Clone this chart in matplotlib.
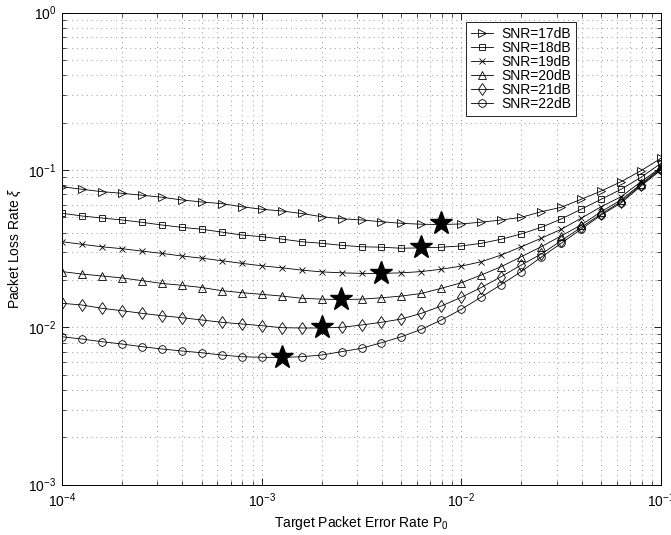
import numpy as np
import matplotlib
matplotlib.use("Agg")
import matplotlib.pyplot as plt

plt.rcParams['font.family'] = ['Liberation Sans', 'DejaVu Sans']
plt.rcParams['mathtext.fontset'] = 'custom'
plt.rcParams['mathtext.rm'] = 'Liberation Sans'
plt.rcParams['mathtext.it'] = 'Liberation Sans:italic'

# Target packet error rate (31 log-spaced points, 1e-4 .. 1e-1)
p0 = [1e-4 * 10 ** (k / 10) for k in range(31)]

labels = ["SNR=17dB", "SNR=18dB", "SNR=19dB", "SNR=20dB", "SNR=21dB", "SNR=22dB"]
markers = [">", "s", "x", "^", "d", "o"]

snr17 = [0.0783, 0.0754, 0.0728, 0.0711, 0.0691, 0.0671, 0.0645, 0.0626, 0.0611, 0.0584,
         0.0563, 0.0549, 0.0529, 0.0505, 0.0490, 0.0481, 0.0469, 0.0458, 0.0452, 0.0450,
         0.0454, 0.0466, 0.0481, 0.0500, 0.0543, 0.0579, 0.0651, 0.0735, 0.0842, 0.0990, 0.1187]
snr18 = [0.0531, 0.0510, 0.0495, 0.0481, 0.0465, 0.0447, 0.0432, 0.0420, 0.0403, 0.0386,
         0.0377, 0.0364, 0.0350, 0.0342, 0.0332, 0.0325, 0.0323, 0.0318, 0.0320, 0.0323,
         0.0329, 0.0342, 0.0363, 0.0392, 0.0432, 0.0488, 0.0563, 0.0651, 0.0754, 0.0899, 0.1103]
snr19 = [0.0350, 0.0337, 0.0325, 0.0316, 0.0305, 0.0295, 0.0284, 0.0275, 0.0265, 0.0255,
         0.0246, 0.0239, 0.0231, 0.0225, 0.0222, 0.0220, 0.0220, 0.0222, 0.0226, 0.0234,
         0.0245, 0.0261, 0.0288, 0.0325, 0.0368, 0.0420, 0.0493, 0.0584, 0.0676, 0.0842, 0.1040]
snr20 = [0.0226, 0.0218, 0.0212, 0.0206, 0.0198, 0.0190, 0.0185, 0.0179, 0.0171, 0.0166,
         0.0162, 0.0158, 0.0153, 0.0151, 0.0150, 0.0151, 0.0154, 0.0158, 0.0164, 0.0177,
         0.0192, 0.0215, 0.0243, 0.0281, 0.0325, 0.0381, 0.0447, 0.0543, 0.0645, 0.0815, 0.1030]
snr21 = [0.01421, 0.01386, 0.01320, 0.01275, 0.01227, 0.01185, 0.01151, 0.01113, 0.01076, 0.01050,
         0.01024, 0.00994, 0.00990, 0.00990, 0.01000, 0.01034, 0.01076, 0.01129, 0.01227, 0.01366,
         0.01551, 0.0179, 0.0210, 0.0249, 0.0292, 0.0355, 0.0432, 0.0525, 0.0629, 0.0803, 0.1015]
snr22 = [0.00871, 0.00842, 0.00810, 0.00783, 0.00753, 0.00728, 0.00707, 0.00689, 0.00666, 0.00650,
         0.00645, 0.00643, 0.00650, 0.00666, 0.00700, 0.00735, 0.00798, 0.00871, 0.00971, 0.01113,
         0.01301, 0.01558, 0.0187, 0.0226, 0.0279, 0.0342, 0.0420, 0.0517, 0.0617, 0.0791, 0.1000]
series = [snr17, snr18, snr19, snr20, snr21, snr22]

# Optimal operating points (stars)
star_x = [0.00794, 0.00631, 0.00398, 0.00251, 0.00200, 0.00126]
star_y = [0.0458, 0.0323, 0.0222, 0.0151, 0.0101, 0.0065]

fig = plt.figure(figsize=(6.71, 5.35), dpi=100)
ax = fig.add_axes([0.0924, 0.0942, 0.8927, 0.8821])

sizes = {">": 5.5, "s": 4.5, "x": 4.5, "^": 5.5, "d": 6.5, "o": 5.5}
for ys, lab, mk in zip(series, labels, markers):
    ax.plot(p0, ys, color="black", linewidth=0.6, marker=mk, markersize=sizes[mk],
            markerfacecolor="none", markeredgecolor="black", markeredgewidth=0.6,
            label=lab)

ax.plot(star_x, star_y, linestyle="none", marker="*", markersize=17,
        color="black", zorder=5)

ax.set_xscale("log")
ax.set_yscale("log")
ax.set_xlim(1e-4, 1e-1)
ax.set_ylim(1e-3, 1e0)

ax.grid(True, which="both", linestyle=(0, (1, 4)), color="#999999", linewidth=0.7)
ax.tick_params(which="both", direction="in", top=True, right=True, labelsize=10)
ax.tick_params(axis="x", which="major", pad=5)
ax.tick_params(axis="y", which="major", pad=4)
ax.tick_params(which="major", length=5, width=0.6)
ax.tick_params(which="minor", length=3, width=0.5)
for s in ax.spines.values():
    s.set_linewidth(0.7)

ax.set_xlabel("Target Packet Error Rate P$_0$", fontsize=10, labelpad=3)
ax.set_ylabel("Packet Loss Rate $\\xi$", fontsize=10, labelpad=4)

leg = ax.legend(loc="upper right", bbox_to_anchor=(0.858, 0.980), fontsize=10,
                frameon=True, fancybox=False, edgecolor="black", framealpha=1,
                handlelength=1.6, borderpad=0.35, labelspacing=0.0, handletextpad=0.6,
                borderaxespad=0.0)
leg.get_frame().set_linewidth(0.6)

fig.savefig("out.png", dpi=100)
